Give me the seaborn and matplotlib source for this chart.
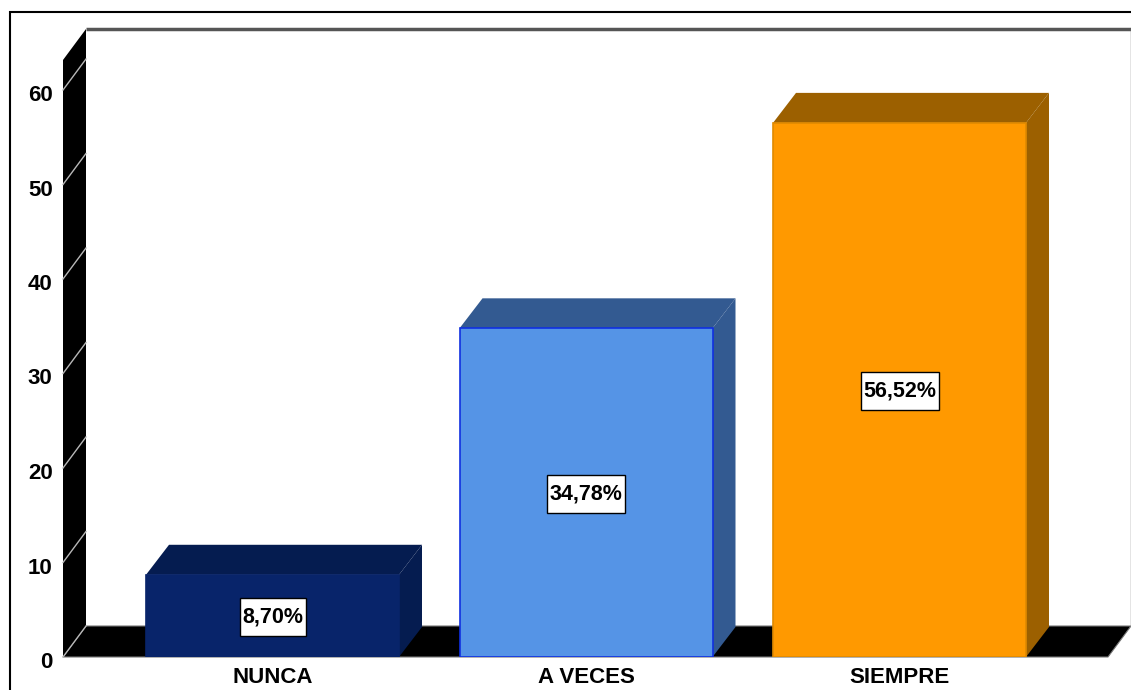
import matplotlib
matplotlib.use('Agg')
import pandas as pd
import seaborn as sns
import matplotlib.pyplot as plt
from matplotlib.patches import Polygon, Rectangle
from matplotlib.transforms import ScaledTranslation

# Chart values
categories = ['NUNCA', 'A VECES', 'SIEMPRE']
values = [8.70, 34.78, 56.52]
value_labels = ['8,70%', '34,78%', '56,52%']
y_ticks = [0, 10, 20, 30, 40, 50, 60]

# Colours per bar: front, top, side, edge
front_colors = ['#08246a', '#5594e6', '#ff9900']
top_colors = ['#051c50', '#335a91', '#9c6000']
side_colors = ['#051c50', '#335a91', '#9c6000']
edge_colors = ['#08246a', '#1030e0', '#e08a00']

plt.rcParams['font.family'] = ['Liberation Sans', 'DejaVu Sans']
plt.rcParams['font.weight'] = 'bold'

W, H = 1131, 690
fig = plt.figure(figsize=(W / 100, H / 100), dpi=100, facecolor='white')

# Front plane of the 3D box, in pixels of the picture
left, right, bottom, top = 63, 1108, 657, 60
ax = fig.add_axes([left / W, (H - bottom) / H, (right - left) / W, (bottom - top) / H])
ax.patch.set_alpha(0)

px_y = 9.45   # pixels per y unit
px_x = 313.5  # pixels per category
ymax = (bottom - top) / px_y
xmin, xmax = (left - 272.5) / px_x, (right - 272.5) / px_x

# Depth of the walls and the bars
wall_dx, wall_dy = 23 / px_x, 31 / px_y
bar_dx, bar_dy = 23 / px_x, 30 / px_y
bar_w = 253 / px_x

df = pd.DataFrame({'categoria': categories, 'valor': values})
sns.barplot(data=df, x='categoria', y='valor', hue='categoria', palette=front_colors,
            width=bar_w, saturation=1, legend=False, dodge=False, ax=ax, zorder=4)
ax.set_xlim(xmin, xmax)
ax.set_ylim(0, ymax)

# Floor, left wall and outline of the back wall
ax.add_patch(Polygon([(xmin, 0), (xmax, 0), (xmax + wall_dx, wall_dy), (xmin + wall_dx, wall_dy)],
                     closed=True, fc='black', ec='#777777', lw=0.8, clip_on=False, zorder=1))
ax.add_patch(Polygon([(xmin, 0), (xmin, ymax), (xmin + wall_dx, ymax + wall_dy), (xmin + wall_dx, wall_dy)],
                     closed=True, fc='black', ec='none', clip_on=False, zorder=1))
ax.plot([xmin + wall_dx, xmax + wall_dx], [ymax + wall_dy] * 2, color='#555555', lw=2.5,
        clip_on=False, zorder=1, solid_capstyle='butt')
ax.plot([xmax + wall_dx] * 2, [wall_dy, ymax + wall_dy], color='#777777', lw=1,
        clip_on=False, zorder=1)

# Grid lines only show on the left wall
for t in y_ticks:
    ax.plot([xmin, xmin + wall_dx], [t, t + wall_dy], color='#b8b8b8', lw=1, clip_on=False, zorder=2)

# Top and side faces of the bars, plus the value boxes
for i, (bar, val) in enumerate(zip(ax.patches, values)):
    x0 = bar.get_x()
    x1 = x0 + bar.get_width()
    bar.set_edgecolor(edge_colors[i])
    bar.set_linewidth(1.2)
    ax.add_patch(Polygon([(x0, val), (x1, val), (x1 + bar_dx, val + bar_dy), (x0 + bar_dx, val + bar_dy)],
                         closed=True, fc=top_colors[i], ec='none', zorder=3))
    ax.add_patch(Polygon([(x1, 0), (x1, val), (x1 + bar_dx, val + bar_dy), (x1 + bar_dx, bar_dy)],
                         closed=True, fc=side_colors[i], ec='none', zorder=3))
    box_w = (66 if len(value_labels[i]) == 5 else 78) / px_x
    box_h = 38 / px_y
    ax.add_patch(Rectangle((i - box_w / 2, val / 2 - 0.15 - box_h / 2), box_w, box_h,
                           fc='white', ec='black', lw=1, zorder=5))
    ax.text(i, val / 2 - 0.15, value_labels[i], ha='center', va='center', fontsize=15.5, color='black', zorder=6)

ax.set_xlabel('')
ax.set_ylabel('')
ax.set_yticks(y_ticks)
ax.set_xticks(range(len(categories)))
ax.set_xticklabels(categories)
ax.tick_params(axis='y', length=0, pad=7.5, labelsize=16)
ax.tick_params(axis='x', length=0, pad=7.5, labelsize=16)
# Y labels sit a little under their grid line
for lab in ax.get_yticklabels():
    lab.set_transform(lab.get_transform() + ScaledTranslation(0, -3 / 100, fig.dpi_scale_trans))
for s in ax.spines.values():
    s.set_visible(False)

# Frame around the picture, it runs off the right and bottom edge
fig.add_artist(Rectangle((10 / W, -0.05), 1.2, (H - 12) / H + 0.05, transform=fig.transFigure,
                         fc='none', ec='black', lw=1.5))

fig.savefig('out.png', dpi=100)
